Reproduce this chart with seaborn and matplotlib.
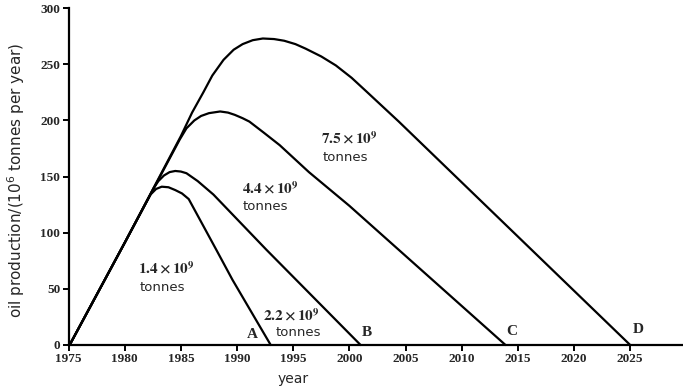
import matplotlib
matplotlib.use("Agg")
import matplotlib.pyplot as plt
import seaborn as sns
import pandas as pd

# curves (year, oil production in 10^6 tonnes per year)
year_a = [1975.1, 1980.0, 1982.3, 1982.8, 1983.3, 1983.9, 1984.5, 1985.1, 1985.7, 1988.2, 1989.6, 1993.0]
prod_a = [0, 91, 134, 139, 141, 140.5, 138, 135, 130, 84, 58, 0]

year_b = [1975.1, 1980.0, 1982.6, 1983.0, 1983.5, 1984.0, 1984.5, 1985.0, 1985.5, 1986.5, 1987.9, 1992.6, 2001.0]
prod_b = [0, 91, 140, 146, 151, 154, 155, 154.5, 153, 146, 134, 85, 0]

year_c = [1975.1, 1980.0, 1984.9, 1985.5, 1986.2, 1986.8, 1987.5, 1988.5, 1989.2, 1989.8, 1990.5,
          1991.1, 1992.4, 1993.8, 1996.4, 2000.0, 2013.9]
prod_c = [0, 91, 183, 193, 200, 204, 206.5, 208, 207, 205, 202, 199, 189, 178, 154, 124, 0]

year_d = [1975.1, 1980.0, 1985.0, 1986.0, 1987.0, 1987.8, 1988.8, 1989.7, 1990.5, 1991.4, 1992.3,
          1993.3, 1994.2, 1995.2, 1996.1, 1997.5, 1998.8, 2000.2, 2001.5, 2004.4, 2025.0]
prod_d = [0, 91, 186, 207, 225, 240, 254, 263, 268, 271.5, 273, 272.5, 271, 268, 264, 257, 249,
          238, 226, 199, 0]

x_ticks = [1975, 1980, 1985, 1990, 1995, 2000, 2005, 2010, 2015, 2020, 2025]
y_ticks = [0, 50, 100, 150, 200, 250, 300]

reserves = ["1.4", "2.2", "4.4", "7.5"]
end_letters = ["A", "B", "C", "D"]


def build_frame():
    rows = []
    for name, xs, ys in [("A", year_a, prod_a), ("B", year_b, prod_b),
                         ("C", year_c, prod_c), ("D", year_d, prod_d)]:
        for x, y in zip(xs, ys):
            rows.append({"curve": name, "year": x, "prod": y})
    return pd.DataFrame(rows)


def plot_chart(data):
    fig = plt.figure(figsize=(6.83, 3.9), dpi=100)
    ax = fig.add_axes([0.1003, 0.1154, 0.8997, 0.8636])

    for name in end_letters:
        sub = data[data["curve"] == name]
        sns.lineplot(data=sub, x="year", y="prod", ax=ax, color="black",
                     linewidth=1.6, sort=False, estimator=None, clip_on=False)

    ax.set_xlim(1975, 2029.7)
    ax.set_ylim(0, 300)
    ax.set_xticks(x_ticks)
    ax.set_yticks(y_ticks)

    tick_font = dict(family="Liberation Serif", weight="bold", size=9.5)
    ax.set_xticklabels([str(t) for t in x_ticks], fontdict=tick_font)
    ax.set_yticklabels([str(t) for t in y_ticks], fontdict=tick_font)
    ax.tick_params(direction="out", length=4, width=1.4, color="black", pad=2)

    sns.despine(ax=ax)
    for side in ["left", "bottom"]:
        ax.spines[side].set_linewidth(1.6)
        ax.spines[side].set_color("black")

    ax.set_xlabel("year", family="DejaVu Sans", size=10)
    ax.xaxis.set_label_coords(0.366, -0.08)
    ax.set_ylabel("oil production/(10$^6$ tonnes per year)", family="DejaVu Sans",
                  size=11, math_fontfamily="dejavusans")
    ax.yaxis.set_label_coords(-0.068, 0.49)

    # reserve labels: (number left x, number y, "tonnes" left x, "tonnes" y)
    label_pos = [(1981.2, 68, 1981.3, 51), (1992.3, 26.5, 1993.4, 11.5),
                 (1990.4, 139.5, 1990.5, 123), (1997.5, 184, 1997.6, 167)]
    for (nx, ny, tx, ty), r in zip(label_pos, reserves):
        ax.text(nx, ny, r"$\mathbf{" + r + r"\times 10^9}$", ha="left", va="center",
                size=11, math_fontfamily="stix")
        ax.text(tx, ty, "tonnes", ha="left", va="center",
                family="DejaVu Sans", size=9.5)

    # end-point letters
    letter_pos = [(1991.4, 9), (2001.6, 11), (2014.5, 12), (2025.7, 14)]
    for (lx, ly), letter in zip(letter_pos, end_letters):
        ax.text(lx, ly, letter, ha="center", va="center", family="Liberation Serif",
                weight="bold", size=11)

    fig.savefig("out.png", dpi=100)


if __name__ == "__main__":
    sns.set_theme(style="ticks")
    plt.rcParams["font.family"] = ["DejaVu Sans"]
    data = build_frame()
    plot_chart(data)
